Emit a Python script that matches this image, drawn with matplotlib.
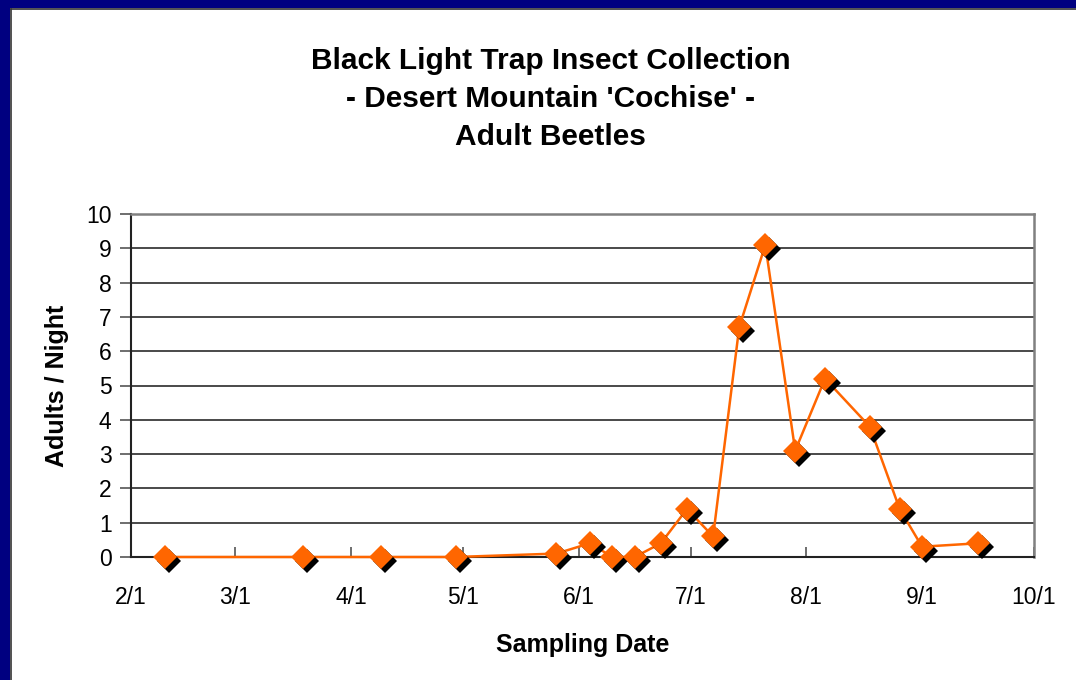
import datetime as dt
import matplotlib
matplotlib.use("Agg")
import matplotlib.pyplot as plt
from matplotlib.patches import Rectangle
from matplotlib.transforms import offset_copy

plt.rcParams['font.family'] = ['Liberation Sans', 'DejaVu Sans']

# sampling dates (month, day) and adults per night
sample_dates = [(2, 10), (3, 19), (4, 9), (4, 29), (5, 26), (6, 4), (6, 10),
                (6, 16), (6, 23), (6, 30), (7, 7), (7, 14), (7, 21), (7, 29),
                (8, 6), (8, 18), (8, 26), (9, 1), (9, 16)]
adults_per_night = [0, 0, 0, 0, 0.1, 0.4, 0, 0, 0.4, 1.4, 0.6, 6.7, 9.1, 3.1,
                    5.2, 3.8, 1.4, 0.3, 0.4]
tick_months = [2, 3, 4, 5, 6, 7, 8, 9, 10]
tick_labels = ['2/1', '3/1', '4/1', '5/1', '6/1', '7/1', '8/1', '9/1', '10/1']
y_ticks = list(range(0, 11))

YEAR = 2003
x = [dt.date(YEAR, m, d) for m, d in sample_dates]
xticks = [dt.date(YEAR, m, 1) for m in tick_months]

fig = plt.figure(figsize=(10.76, 6.8), dpi=100)
fig.patch.set_facecolor('white')

# navy frame at top and left
fig.patches.append(Rectangle((0, 0), 10 / 1076, 1, transform=fig.transFigure,
                             facecolor='#000080', edgecolor='none', zorder=0))
fig.patches.append(Rectangle((0, 1 - 8 / 680), 1, 8 / 680, transform=fig.transFigure,
                             facecolor='#000080', edgecolor='none', zorder=0))
fig.add_artist(plt.Line2D([10.5 / 1076, 10.5 / 1076], [0, 1 - 8.5 / 680],
                          transform=fig.transFigure, color='#333333', lw=1.2))
fig.add_artist(plt.Line2D([10.5 / 1076, 1], [1 - 8.5 / 680, 1 - 8.5 / 680],
                          transform=fig.transFigure, color='#333333', lw=1.2))

ax = fig.add_axes([131 / 1076, 1 - 557 / 680, (1034 - 131) / 1076, (557 - 214) / 680])

ax.plot(x, adults_per_night, color='#FF6600', lw=1.8, zorder=3, clip_on=False)
shadow = offset_copy(ax.transData, fig=fig, x=4, y=-4, units='dots')
ax.plot(x, adults_per_night, 'D', color='black', ms=12.5, mew=0,
        transform=shadow, zorder=4, clip_on=False)
ax.plot(x, adults_per_night, 'D', color='#FF6600', ms=12.5, mew=0,
        zorder=5, clip_on=False)

ax.set_xlim(xticks[0], xticks[-1])
ax.set_ylim(0, 10)
ax.set_xticks(xticks)
ax.set_xticklabels(tick_labels)
ax.set_yticks(y_ticks)

ax.yaxis.grid(True, color='#3a3a3a', lw=1.3)
ax.set_axisbelow(True)

for side in ['top', 'right']:
    ax.spines[side].set_color('#808080')
    ax.spines[side].set_linewidth(1.8)
for side in ['left', 'bottom']:
    ax.spines[side].set_color('#222222')
    ax.spines[side].set_linewidth(1.5)

ax.tick_params(axis='x', direction='in', length=7, width=1.2, color='#555555',
               labelsize=16.5, pad=21)
ax.tick_params(axis='y', direction='out', length=8, width=1.2, color='#555555',
               labelsize=16.5, pad=6)

ax.set_xlabel('Sampling Date', fontsize=18, fontweight='bold', labelpad=17)
ax.set_ylabel('Adults / Night', fontsize=18, fontweight='bold', labelpad=12)

fig.text(0.512, 1 - 99 / 680, "Black Light Trap Insect Collection\n"
         "- Desert Mountain 'Cochise' -\nAdult Beetles",
         ha='center', va='center', fontsize=21.5, fontweight='bold',
         linespacing=1.45)

fig.savefig('out.png', dpi=100)
